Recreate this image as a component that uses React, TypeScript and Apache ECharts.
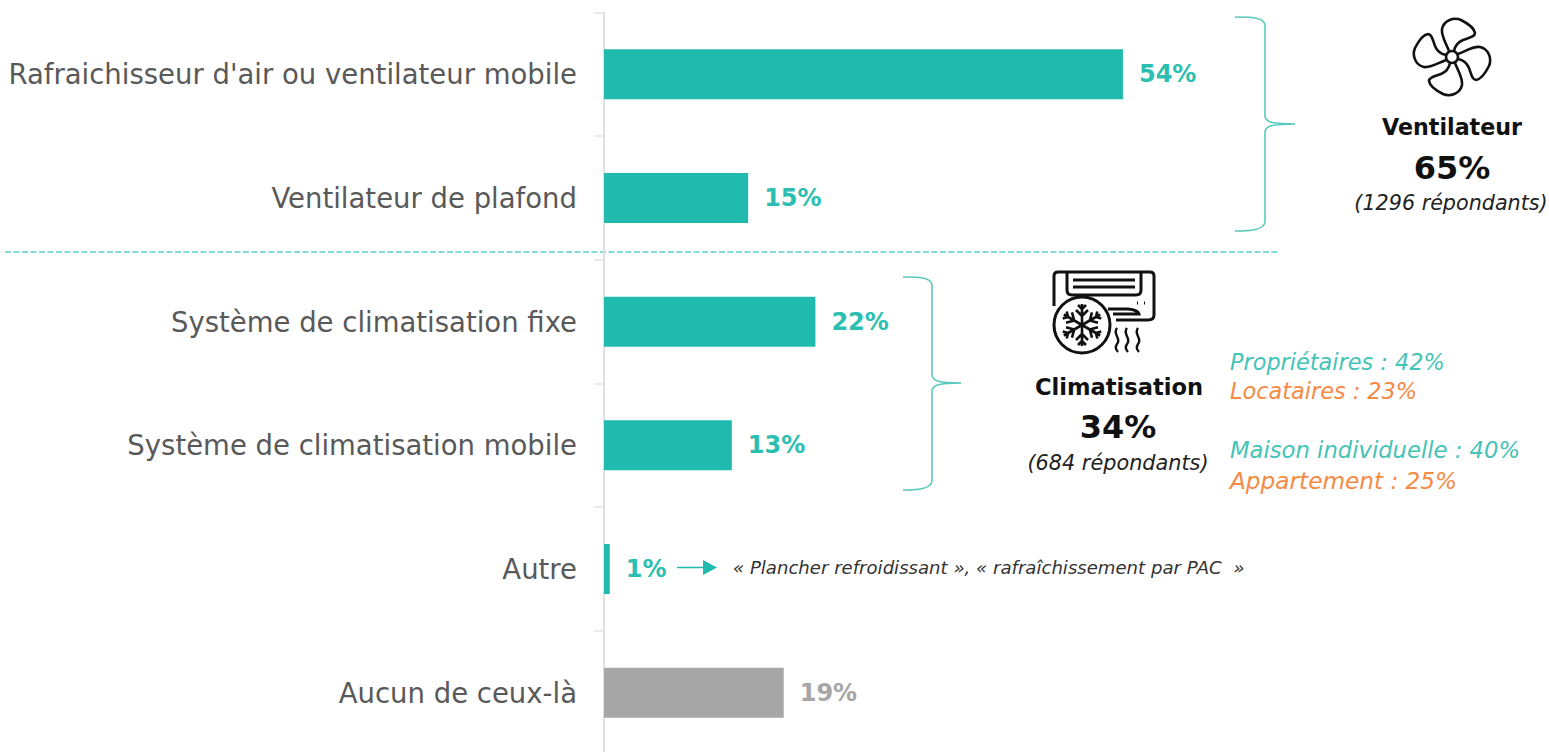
import React, { useEffect, useRef } from "react";
import * as echarts from "echarts";

const categories = [
  "Rafraichisseur d'air ou ventilateur mobile",
  "Ventilateur de plafond",
  "Système de climatisation fixe",
  "Système de climatisation mobile",
  "Autre",
  "Aucun de ceux-là",
];
const values = [54, 15, 22, 13.3, 0.6, 18.7];
const valueLabels = ["54%", "15%", "22%", "13%", "1%", "19%"];
const barColors = ["#20bbae", "#20bbae", "#20bbae", "#20bbae", "#20bbae", "#a6a6a6"];
const labelColors = ["#2cbfb1", "#2cbfb1", "#2cbfb1", "#2cbfb1", "#2cbfb1", "#a6a6a6"];
const FONT = "'DejaVu Sans', sans-serif";

const BRACE_A =
  "M1235 17 C1250 17 1264 17 1265 25 L1265 116 C1265 122 1272 124 1295 124 C1272 124 1265 126 1265 132 L1265 222 C1264 230 1250 231 1235 231";
const BRACE_B =
  "M903 277 C918 277 931 277 932 285 L932 375 C932 381 939 383 961 383 C939 383 932 385 932 391 L932 481 C931 489 918 490 903 490";
const BLADE =
  "M-3 -6 C-6 -14 -11 -21 -10 -28 C-8 -37 2 -40 9 -37 C15 -34 22 -30 23 -24 C23 -20 16 -19 11 -17 C6 -15 3 -11 2 -6";
const HUB = "M6 0 A6 6 0 1 1 -6 0 A6 6 0 1 1 6 0 Z";
const AC_BODY =
  "M1054 306 L1054 276 Q1054 272 1058 272 L1150 272 Q1154 272 1154 276 L1154 315 Q1154 320 1148 320 L1116 320 M1067 272 L1067 290 Q1067 295 1072 295 L1136 295 Q1141 295 1141 290 L1141 272 M1073 280 L1135 280 M1073 287 L1135 287 M1108 309 L1128 309 Q1138 310 1139 314 L1113 314 M1137 303 L1138 303 M1144 303 L1145 303";
const AC_CIRCLE = "M1110 325 A28 28 0 1 1 1054 325 A28 28 0 1 1 1110 325 Z";
const SNOW_ARM = "M0 0 L0 -21 M0 -9 L-6 -15 M0 -9 L6 -15 M0 -16 L-4 -20 M0 -16 L4 -20";
const HEAT =
  "M1117 328 C1112 334 1122 339 1117 344 C1115 347 1116 350 1118 352 M1127 328 C1122 334 1132 339 1127 344 C1125 347 1126 350 1128 352 M1138 328 C1133 334 1143 339 1138 344 C1136 347 1137 350 1139 352";
const ARROW_HEAD = "M703 560 L717 567.5 L703 575 Z";

function shape(name: string, d: string) {
  echarts.graphic.registerShape(name, echarts.graphic.extendPath(d as any, {}) as any);
}
shape("braceA", BRACE_A);
shape("braceB", BRACE_B);
shape("fanBlade", BLADE);
shape("fanHub", HUB);
shape("acBody", AC_BODY);
shape("acCircle", AC_CIRCLE);
shape("snowArm", SNOW_ARM);
shape("acHeat", HEAT);
shape("arrowHead", ARROW_HEAD);

const line = (color: string, lineWidth: number) => ({ fill: "none", stroke: color, lineWidth });

function text(x: number, y: number, t: string, fontSize: number, fill: string, align = "left", extra: any = {}) {
  return {
    type: "text",
    x,
    y,
    style: { text: t, fontSize, fill, align, verticalAlign: "middle", fontFamily: FONT, ...extra },
  };
}

export default function App() {
  const ref = useRef<HTMLDivElement>(null);
  useEffect(() => {
    document.body.style.margin = "0";
    document.body.style.overflow = "hidden";
    const chart = echarts.init(ref.current!, undefined, { renderer: "svg" });
    const teal = "#5ac8bc";
    const fan: any[] = [0, 90, 180, 270].map((deg) => ({
      type: "fanBlade",
      x: 1452,
      y: 57,
      rotation: (deg * Math.PI) / 180,
      style: line("#111111", 2.6),
    }));
    fan.push({ type: "fanHub", x: 1452, y: 57, style: line("#111111", 2.6) });
    const snow: any[] = [0, 60, 120, 180, 240, 300].map((deg) => ({
      type: "snowArm",
      x: 1082,
      y: 325,
      rotation: (deg * Math.PI) / 180,
      style: line("#111111", 2.6),
    }));
    chart.setOption({
      animation: false,
      grid: { left: 604, top: 12.5, width: 961, height: 742, containLabel: false },
      xAxis: { type: "value", min: 0, max: 100, show: false },
      yAxis: {
        type: "category",
        inverse: true,
        data: categories,
        axisLine: { show: true, lineStyle: { color: "#e0e0e0", width: 2 } },
        axisTick: { show: true, length: 10, lineStyle: { color: "#e3e3e3", width: 1.5 } },
        axisLabel: { margin: 27, fontSize: 27.5, color: "#595959", fontFamily: FONT },
      },
      series: [
        {
          type: "bar",
          barWidth: 50,
          data: values.map((value, i) => ({
            value,
            itemStyle: { color: barColors[i] },
            label: { color: labelColors[i], formatter: valueLabels[i] },
          })),
          label: {
            show: true,
            position: "right",
            distance: 16,
            fontSize: 24,
            fontWeight: 600,
            fontFamily: FONT,
          },
        },
      ],
      graphic: {
        elements: [
          { type: "line", shape: { x1: 5, y1: 252, x2: 1280, y2: 252 }, style: { stroke: "#5fd0c5", lineWidth: 1.5, lineDash: [6, 2.5] } },
          { type: "braceA", style: line(teal, 1.6) },
          { type: "braceB", style: line(teal, 1.6) },
          ...fan,
          text(1452, 127, "Ventilateur", 22.2, "#111111", "center", { fontWeight: 600 }),
          text(1452, 168, "65%", 32, "#111111", "center", { fontWeight: 700 }),
          text(1451, 203, "(1296 répondants)", 20.7, "#222222", "center", { fontStyle: "italic" }),
          { type: "acBody", style: line("#111111", 3) },
          { type: "acCircle", style: line("#111111", 3) },
          ...snow,
          { type: "acHeat", style: line("#111111", 2.4) },
          text(1119, 387, "Climatisation", 22.6, "#111111", "center", { fontWeight: 600 }),
          text(1118, 427, "34%", 32, "#111111", "center", { fontWeight: 700 }),
          text(1118, 463, "(684 répondants)", 20.8, "#222222", "center", { fontStyle: "italic" }),
          text(1230, 362, "Propriétaires : 42%", 22.4, "#45c3b7", "left", { fontStyle: "italic" }),
          text(1230, 391, "Locataires : 23%", 22.4, "#f58a45", "left", { fontStyle: "italic" }),
          text(1230, 450, "Maison individuelle : 40%", 22.7, "#45c3b7", "left", { fontStyle: "italic" }),
          text(1230, 480, "Appartement : 25%", 23.2, "#f58a45", "left", { fontStyle: "italic" }),
          { type: "line", shape: { x1: 677, y1: 567.5, x2: 705, y2: 567.5 }, style: { stroke: "#20bbae", lineWidth: 1.5 } },
          { type: "arrowHead", style: { fill: "#20bbae" } },
          text(733, 567, "« Plancher refroidissant », « rafraîchissement par PAC  »", 18.1, "#333333", "left", { fontStyle: "italic" }),
        ],
      },
    });
    return () => chart.dispose();
  }, []);
  return <div ref={ref} style={{ width: 1600, height: 800 }} />;
}
